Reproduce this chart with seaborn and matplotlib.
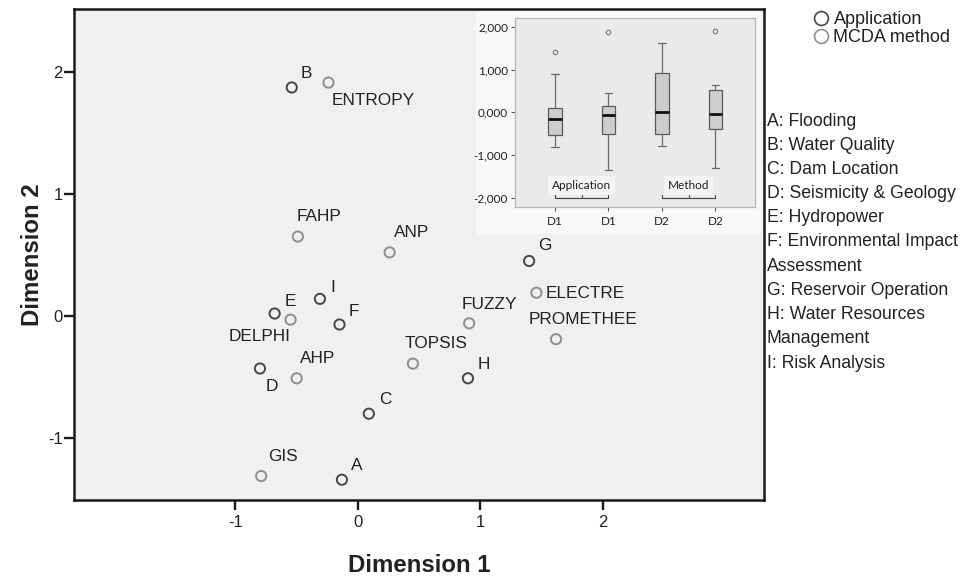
import numpy as np
import pandas as pd
import matplotlib
matplotlib.use("Agg")
import matplotlib.pyplot as plt
import seaborn as sns
from matplotlib.lines import Line2D
from matplotlib.ticker import FuncFormatter, FixedLocator

# ---------------- data ----------------
app_codes = ["A", "B", "C", "D", "E", "F", "G", "H", "I"]
app_dim1 = [-0.13, -0.54, 0.09, -0.80, -0.68, -0.15, 1.40, 0.90, -0.31]
app_dim2 = [-1.34, 1.87, -0.80, -0.43, 0.02, -0.07, 0.45, -0.51, 0.14]
app_names = ["Flooding", "Water Quality", "Dam Location", "Seismicity & Geology",
             "Hydropower", "Environmental Impact\nAssessment", "Reservoir Operation",
             "Water Resources\nManagement", "Risk Analysis"]

method_names = ["ENTROPY", "FAHP", "ANP", "DELPHI", "AHP", "GIS", "TOPSIS",
                "FUZZY", "ELECTRE", "PROMETHEE"]
method_dim1 = [-0.24, -0.49, 0.26, -0.55, -0.50, -0.79, 0.45, 0.91, 1.46, 1.62]
method_dim2 = [1.91, 0.65, 0.52, -0.03, -0.51, -1.31, -0.39, -0.06, 0.19, -0.19]

legend_labels = ["Application", "MCDA method"]
axis_ticks = [-1, 0, 1, 2]
inset_tick_labels = ["D1", "D1", "D2", "D2"]
inset_group_labels = ["Application", "Method"]
inset_yticks = [-2, -1, 0, 1, 2]

# ---------------- style ----------------
FONT = ["Liberation Sans", "DejaVu Sans"]
INSET_FONT = ["Lato", "DejaVu Sans"]
APP_COLOR = "#474747"
MET_COLOR = "#8e8e8e"
TEXT_COLOR = "#222222"

label_offsets = {  # pixel offsets of label centre from its point
    "A": (15, 14), "B": (15, 14), "C": (16, 14), "D": (12, -18), "E": (16, 12),
    "F": (14, 13), "G": (16, 15), "H": (16, 14), "I": (13, 11),
    "ENTROPY": (45, -18), "FAHP": (21, 20), "ANP": (22, 20), "DELPHI": (-31, -17),
    "AHP": (21, 20), "GIS": (22, 20), "TOPSIS": (23, 20), "FUZZY": (20, 19),
    "ELECTRE": (49, -1), "PROMETHEE": (27, 20),
}

sns.set_theme(style="white")
plt.rcParams["font.family"] = FONT

W, H = 960, 577
fig = plt.figure(figsize=(W / 100, H / 100), dpi=100, facecolor="white")


def px_axes(l, t, r, b):
    return [l / W, 1 - b / H, (r - l) / W, (b - t) / H]


ax = fig.add_axes(px_axes(74, 9, 764, 500))
ax.set_facecolor("#f0f0f0")

df_app = pd.DataFrame({"dim1": app_dim1, "dim2": app_dim2, "name": app_codes})
df_met = pd.DataFrame({"dim1": method_dim1, "dim2": method_dim2, "name": method_names})

sns.scatterplot(data=df_app, x="dim1", y="dim2", ax=ax, s=54, facecolor="none",
                edgecolor=APP_COLOR, linewidth=1.4, legend=False, zorder=3)
sns.scatterplot(data=df_met, x="dim1", y="dim2", ax=ax, s=54, facecolor="none",
                edgecolor=MET_COLOR, linewidth=1.4, legend=False, zorder=3)

for df in (df_app, df_met):
    for _, row in df.iterrows():
        dx, dy = label_offsets[row["name"]]
        ax.annotate(row["name"], (row["dim1"], row["dim2"]), xytext=(dx, dy),
                    textcoords="offset pixels", ha="center", va="center",
                    fontsize=12.4, color=TEXT_COLOR)

ax.set_xlim(-2.32, 3.32)
ax.set_ylim(-1.506, 2.512)
ax.set_xticks(axis_ticks)
ax.set_yticks(axis_ticks)
ax.set_xticklabels([str(t) for t in axis_ticks])
ax.set_yticklabels([str(t) for t in axis_ticks])
ax.tick_params(axis="both", direction="out", length=7.2, width=1.7, color="#1a1a1a",
               labelsize=12, labelcolor=TEXT_COLOR)
ax.tick_params(axis="x", pad=3.6, bottom=True)
ax.tick_params(axis="y", pad=1, left=True)
for sp in ax.spines.values():
    sp.set_linewidth(1.8)
    sp.set_color("#1a1a1a")
ax.set_xlabel("Dimension 1", fontsize=17.3, fontweight="bold", labelpad=17, color=TEXT_COLOR)
ax.set_ylabel("Dimension 2", fontsize=17.3, fontweight="bold", labelpad=2.5, color=TEXT_COLOR)

# ---------------- legend ----------------
handles = [
    Line2D([], [], marker="o", ls="", mfc="none", mec=APP_COLOR, ms=10, mew=1.2),
    Line2D([], [], marker="o", ls="", mfc="none", mec=MET_COLOR, ms=10, mew=1.2),
]
fig.legend(handles=handles, labels=legend_labels, loc="upper left",
           bbox_to_anchor=(810 / W, 1 - 11 / H), frameon=False,
           prop={"family": FONT, "size": 13}, handletextpad=0.1,
           labelspacing=0.05, borderpad=0, borderaxespad=0, handlelength=1.2,
           labelcolor=TEXT_COLOR)

# ---------------- code list ----------------
lines = []
for code, name in zip(app_codes, app_names):
    parts = name.split("\n")
    lines.append(f"{code}: {parts[0]}")
    lines.extend(parts[1:])
for i, line in enumerate(lines):
    fig.text(767 / W, 1 - (121 + i * 24.2) / H, line, ha="left", va="center",
             fontsize=12.7, color=TEXT_COLOR)

# ---------------- inset ----------------
axbg = fig.add_axes(px_axes(476, 11, 761, 234))
axbg.set_facecolor("#f8f8f8")
axbg.set_xticks([])
axbg.set_yticks([])
for sp in axbg.spines.values():
    sp.set_visible(False)

axin = fig.add_axes(px_axes(515, 17.7, 755, 207.3))
axin.set_facecolor("#eaeaea")


def tukey_stats(vals):
    v = np.sort(np.asarray(vals, dtype=float))
    n = len(v)
    half = (n + 1) // 2
    q1 = np.median(v[:half])
    q3 = np.median(v[n - half:])
    iqr = q3 - q1
    lo, hi = q1 - 1.5 * iqr, q3 + 1.5 * iqr
    inside = v[(v >= lo) & (v <= hi)]
    return {"med": np.median(v), "q1": q1, "q3": q3,
            "whislo": inside.min(), "whishi": inside.max(),
            "fliers": v[(v < lo) | (v > hi)]}


series = [app_dim1, app_dim2, method_dim1, method_dim2]
stats = [tukey_stats(s) for s in series]
axin.bxp(stats, positions=range(len(stats)), widths=0.25, patch_artist=True,
         boxprops=dict(facecolor="#cdcdcd", edgecolor="#5a5a5a", linewidth=0.9),
         medianprops=dict(color="#111111", linewidth=2.0),
         whiskerprops=dict(color="#6a6a6a", linewidth=0.9),
         capprops=dict(color="#6a6a6a", linewidth=0.9), capwidths=0.14,
         flierprops=dict(marker="o", markersize=3.2, markerfacecolor="none",
                         markeredgecolor="#777777", markeredgewidth=0.8))

axin.set_xlim(-0.749, 3.743)
axin.set_ylim(-2.222, 2.213)
axin.yaxis.set_major_locator(FixedLocator(inset_yticks))
axin.yaxis.set_major_formatter(FuncFormatter(lambda v, p: f"{v:.3f}".replace(".", ",")))
axin.set_xticks(range(len(inset_tick_labels)))
axin.set_xticklabels(inset_tick_labels)
axin.tick_params(axis="both", direction="out", length=3, width=0.8, color="#555555",
                 labelsize=8.5, labelcolor="#222222", pad=2)
axin.tick_params(axis="x", bottom=True, pad=3)
axin.tick_params(axis="y", left=True)
for lab in axin.get_xticklabels() + axin.get_yticklabels():
    lab.set_family(INSET_FONT)
for sp in axin.spines.values():
    sp.set_color("#b5b5b5")
    sp.set_linewidth(0.9)

for gi, glabel in enumerate(inset_group_labels):
    x0, x1 = 2 * gi, 2 * gi + 1
    xc = (x0 + x1) / 2
    axin.text(xc, -1.72, glabel, ha="center", va="center", fontsize=8.5,
              family=INSET_FONT, color="#222222",
              bbox=dict(boxstyle="square,pad=0.35", fc="#f4f4f4", ec="none"))
    axin.plot([x0, x0, x1, x1], [-1.93, -2.0, -2.0, -1.93], color="#444444", lw=0.8)
    axin.plot([xc, xc], [-2.0, -1.94], color="#444444", lw=0.8)

fig.savefig("out.png", dpi=100, facecolor="white")
